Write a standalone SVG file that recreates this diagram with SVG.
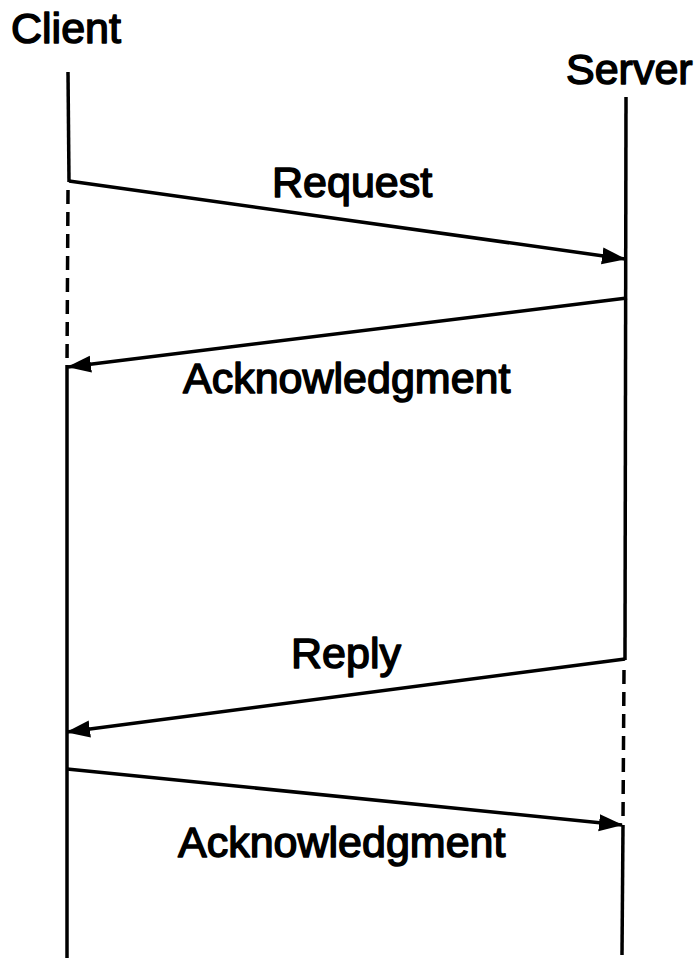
<svg xmlns="http://www.w3.org/2000/svg" width="698" height="958" viewBox="0 0 698 958">
  <style>
    .lbl { font-family: "Liberation Sans", Arial, sans-serif; font-size: 43px; fill: #000; stroke: #000; stroke-width: 1.5px; stroke-linejoin: round; }
    .life { stroke: #000; stroke-width: 3.5; fill: none; }
    .dash { stroke: #000; stroke-width: 3.5; fill: none; stroke-dasharray: 14 8; }
    .msg { stroke: #000; stroke-width: 3.5; fill: none; marker-end: url(#ah); }
  </style>
  <defs>
    <marker id="ah" markerUnits="userSpaceOnUse" markerWidth="26" markerHeight="20" refX="23" refY="10" orient="auto">
      <path d="M0,1.5 L24,10 L0,18.5 Z" fill="#000"/>
    </marker>
  </defs>
  <rect width="698" height="958" fill="#fff"/>
  <g id="client">
    <text class="lbl" x="11" y="43">Client</text>
    <line class="life" x1="68" y1="72" x2="69" y2="182"/>
    <line class="dash" x1="68" y1="190" x2="67" y2="365"/>
    <line class="life" x1="67" y1="365" x2="67" y2="958"/>
  </g>
  <g id="server">
    <text class="lbl" x="566" y="84">Server</text>
    <line class="life" x1="626" y1="97" x2="625" y2="660"/>
    <line class="dash" x1="624" y1="670" x2="623" y2="820"/>
    <line class="life" x1="623" y1="825" x2="622" y2="955"/>
  </g>
  <g id="connectors">
    <line class="msg" x1="69" y1="181" x2="625" y2="259"/>
    <text class="lbl" x="272" y="197">Request</text>
    <line class="msg" x1="627" y1="298" x2="68" y2="367"/>
    <text class="lbl" x="183" y="393">Acknowledgment</text>
    <line class="msg" x1="625" y1="659" x2="67" y2="732"/>
    <text class="lbl" x="291" y="668">Reply</text>
    <line class="msg" x1="67" y1="769" x2="622" y2="825"/>
    <text class="lbl" x="178" y="857">Acknowledgment</text>
  </g>
</svg>
